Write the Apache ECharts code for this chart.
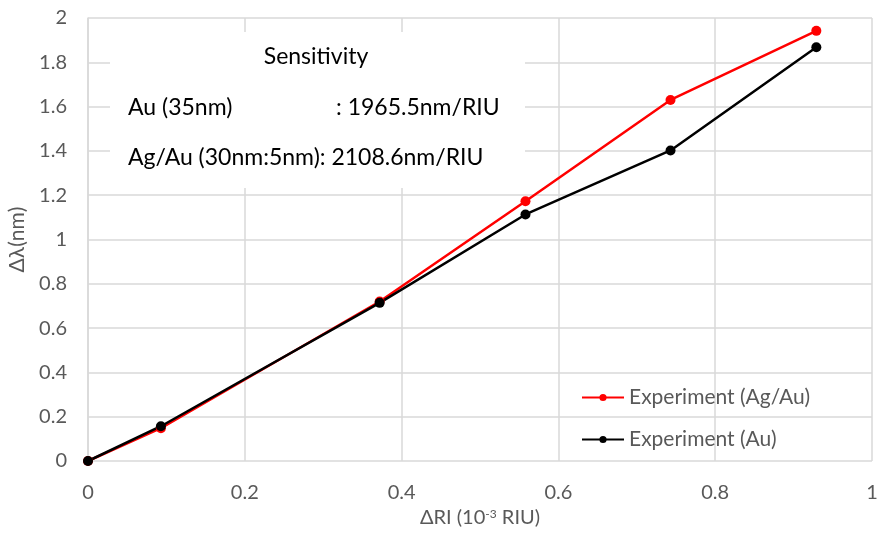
<!DOCTYPE html>
<html>
<head>
<meta charset="utf-8">
<script src="https://cdn.jsdelivr.net/npm/echarts@6/dist/echarts.min.js"></script>
<style>
  html, body { margin: 0; padding: 0; background: #fff; }
  #chart { width: 878px; height: 540px; }
</style>
</head>
<body>
<div id="chart"></div>
<script>
// x values (delta RI, 10^-3 RIU)
const deltaRI = [0, 0.093, 0.372, 0.558, 0.743, 0.929];
// measured wavelength shifts (nm)
const shiftAgAu = [0, 0.148, 0.72, 1.173, 1.63, 1.942];
const shiftAu = [0, 0.157, 0.714, 1.113, 1.402, 1.868];

const seriesNames = ['Experiment (Ag/Au)', 'Experiment (Au)'];
const seriesColors = ['#ff0000', '#000000'];

const font = 'Lato, "Noto Sans", sans-serif';
const gray = '#595959';

const chart = echarts.init(document.getElementById('chart'));

const toPairs = ys => deltaRI.map((x, i) => [x, ys[i]]);

const option = {
    animation: false,
    textStyle: { fontFamily: font },
    grid: { left: 88, right: 6, top: 18, bottom: 79, outerBoundsMode: 'none' },
    legend: {
        orient: 'vertical',
        left: 576,
        top: 382,
        itemGap: 21,
        itemWidth: 42,
        itemHeight: 9,
        textStyle: { fontSize: 21, color: gray, fontFamily: font },
        data: seriesNames
    },
    xAxis: {
        type: 'value',
        min: 0,
        max: 1,
        interval: 0.2,
        name: '{a|ΔRI (10}{s|-3}{a| RIU)}',
        nameLocation: 'middle',
        nameGap: 45,
        nameTextStyle: {
            rich: {
                a: { fontSize: 20, color: gray, fontFamily: font },
                s: { fontSize: 12, color: gray, fontFamily: font, verticalAlign: 'top', padding: [0, 0, 8, 0] }
            }
        },
        axisLine: { show: false },
        axisTick: { show: false },
        axisLabel: { fontSize: 20, color: gray, margin: 22 },
        splitLine: { lineStyle: { color: '#d9d9d9', width: 1.5 } }
    },
    yAxis: {
        type: 'value',
        min: 0,
        max: 2,
        interval: 0.2,
        name: 'Δλ(nm)',
        nameLocation: 'middle',
        nameGap: 60,
        nameTextStyle: { fontSize: 21, color: gray },
        axisLine: { show: true, lineStyle: { color: '#d9d9d9', width: 1.5 } },
        axisTick: { show: false },
        axisLabel: { fontSize: 20, color: gray, margin: 21 },
        splitLine: { lineStyle: { color: '#d9d9d9', width: 1.5 } }
    },
    graphic: [
        {
            type: 'rect',
            left: 110, top: 32,
            shape: { width: 415, height: 156 },
            style: { fill: '#ffffff' },
            z: 10
        },
        {
            type: 'text', x: 316, y: 57, z: 11,
            style: { text: 'Sensitivity', fontSize: 23, fill: '#000', fontFamily: font, align: 'center', verticalAlign: 'middle' }
        },
        {
            type: 'text', x: 128, y: 108, z: 11,
            style: { text: 'Au (35nm)', fontSize: 23, fill: '#000', fontFamily: font, verticalAlign: 'middle' }
        },
        {
            type: 'text', x: 336, y: 108, z: 11,
            style: { text: ': 1965.5nm/RIU', fontSize: 23, fill: '#000', fontFamily: font, verticalAlign: 'middle' }
        },
        {
            type: 'text', x: 128, y: 158, z: 11,
            style: { text: 'Ag/Au (30nm:5nm): 2108.6nm/RIU', fontSize: 23, fill: '#000', fontFamily: font, verticalAlign: 'middle' }
        }
    ],
    series: seriesNames.map((name, i) => ({
        name: name,
        type: 'line',
        data: toPairs(i === 0 ? shiftAgAu : shiftAu),
        symbol: 'circle',
        symbolSize: 10,
        lineStyle: { color: seriesColors[i], width: 2.5 },
        itemStyle: { color: seriesColors[i] }
    }))
};

chart.setOption(option);
</script>
</body>
</html>
